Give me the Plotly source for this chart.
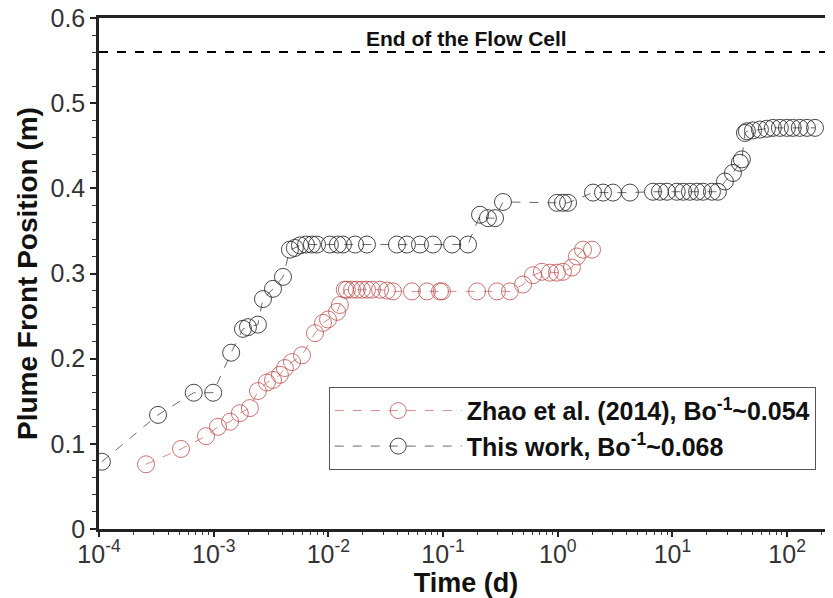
import plotly.graph_objects as go

# ---------------- data ----------------
this_work_time = [1.06e-4, 3.27e-4, 6.7e-4, 9.9e-4, 1.42e-3, 1.80e-3, 1.99e-3, 2.43e-3, 2.69e-3,
                  3.29e-3, 4.02e-3, 4.62e-3, 5.1e-3, 5.65e-3, 6.38e-3, 7.19e-3, 7.96e-3, 1.03e-2,
                  1.21e-2, 1.34e-2, 1.71e-2, 2.17e-2, 3.96e-2, 4.84e-2, 6.29e-2, 8.16e-2, 0.120,
                  0.165, 0.210, 0.246, 0.284, 0.333, 0.984, 1.11, 1.23, 2.03, 2.48, 3.03, 4.26,
                  6.76, 7.78, 8.96, 10.9, 12.4, 14.2, 16.4, 18.5, 22.1, 24.9, 28.7, 33.7, 38.7,
                  40.3, 42.9, 44.6, 50.4, 57.9, 66.7, 75.2, 86.5, 99.6, 112, 129, 149, 175]
this_work_pos = [0.079, 0.134, 0.160, 0.160, 0.207, 0.235, 0.237, 0.240, 0.270,
                 0.282, 0.296, 0.328, 0.330, 0.333, 0.334, 0.334, 0.334, 0.334,
                 0.334, 0.334, 0.334, 0.334, 0.334, 0.334, 0.334, 0.334, 0.334,
                 0.334, 0.369, 0.365, 0.365, 0.384, 0.383, 0.383, 0.383, 0.395, 0.395, 0.395, 0.395,
                 0.396, 0.396, 0.396, 0.396, 0.396, 0.396, 0.396, 0.396, 0.396, 0.396, 0.408, 0.418, 0.430,
                 0.434, 0.465, 0.467, 0.468, 0.469, 0.470, 0.471, 0.471, 0.471, 0.471, 0.471, 0.471, 0.471]

zhao_time = [2.57e-4, 5.19e-4, 8.57e-4, 1.09e-3, 1.39e-3, 1.69e-3, 2.07e-3, 2.43e-3, 2.91e-3,
             3.29e-3, 3.78e-3, 4.18e-3, 4.82e-3, 5.89e-3, 7.64e-3, 8.97e-3, 9.93e-3, 1.19e-2,
             1.26e-2, 1.39e-2, 1.45e-2, 1.61e-2, 1.77e-2, 1.96e-2, 2.17e-2, 2.40e-2, 2.82e-2,
             3.24e-2, 3.66e-2, 5.35e-2, 7.24e-2, 9.40e-2, 9.78e-2, 0.198, 0.295, 0.383, 0.498,
             0.608, 0.728, 0.855, 0.984, 1.11, 1.33, 1.47, 1.66, 1.99]
zhao_pos = [0.076, 0.094, 0.109, 0.120, 0.126, 0.136, 0.142, 0.162, 0.172,
            0.175, 0.181, 0.189, 0.196, 0.204, 0.230, 0.242, 0.246, 0.255,
            0.263, 0.281, 0.281, 0.281, 0.281, 0.281, 0.281, 0.281, 0.281,
            0.280, 0.279, 0.279, 0.279, 0.279, 0.279, 0.279, 0.279, 0.279, 0.287,
            0.298, 0.302, 0.301, 0.301, 0.302, 0.307, 0.320, 0.328, 0.328]

flow_cell_end = 0.56
x_tick_vals = [1e-4, 1e-3, 1e-2, 1e-1, 1e0, 1e1, 1e2]
x_tick_text = ["10<sup>-4</sup>", "10<sup>-3</sup>", "10<sup>-2</sup>", "10<sup>-1</sup>",
               "10<sup>0</sup>", "10<sup>1</sup>", "10<sup>2</sup>"]
x_minor_vals = [k * 10.0 ** e for e in range(-4, 3) for k in range(2, 10)]

FONT = "Liberation Sans, Arial, sans-serif"
X_RANGE = [-4, 2.4]
Y_RANGE = [0, 0.6]

fig = go.Figure()
fig.add_trace(go.Scatter(
    x=zhao_time, y=zhao_pos, mode="lines+markers",
    name="<b>Zhao et al. (2014), Bo<sup>-1</sup>~0.054</b>",
    line=dict(color="rgba(205,125,125,0.9)", width=1, dash="dash"),
    marker=dict(symbol="circle-open", size=17, color="rgba(190,80,80,0.8)", line=dict(width=1)),
))
fig.add_trace(go.Scatter(
    x=this_work_time, y=this_work_pos, mode="lines+markers",
    name="<b>This work, Bo<sup>-1</sup>~0.068</b>",
    line=dict(color="rgba(90,90,90,0.9)", width=1, dash="dash"),
    marker=dict(symbol="circle-open", size=17, color="rgba(40,40,40,0.85)", line=dict(width=1)),
))

fig.add_hline(y=flow_cell_end, line=dict(color="black", width=2, dash="dash"))
fig.add_annotation(x=0.5, xref="paper", y=flow_cell_end, yref="y", yanchor="bottom",
                   text="<b>End of the Flow Cell</b>", showarrow=False,
                   font=dict(family=FONT, size=21, color="#111"), yshift=0)

# the page body adds an 8 px offset, so the figure is 8 px smaller than the window
fig.update_layout(
    width=825, height=590,
    margin=dict(l=91, r=0, t=10, b=69),
    paper_bgcolor="white", plot_bgcolor="white",
    font=dict(family=FONT, color="#222"),
    showlegend=True,
    legend=dict(x=0.313, y=0.197, xanchor="left", yanchor="middle",
                bordercolor="#555", borderwidth=1, bgcolor="white",
                font=dict(family=FONT, size=25, color="#111"),
                itemwidth=127, tracegroupgap=0),
    xaxis=dict(type="log", range=X_RANGE, showgrid=False, zeroline=False, automargin=False,
               showline=True, linecolor="#222", linewidth=2.5, mirror=True,
               ticks="outside", ticklen=5, tickwidth=1.5, tickcolor="#222",
               tickvals=x_tick_vals, ticktext=x_tick_text, ticklabelstandoff=-4,
               tickfont=dict(family=FONT, size=25, color="#333"),
               minor=dict(ticks="outside", ticklen=3, tickwidth=1, tickcolor="#333",
                          tickvals=x_minor_vals),
               title=dict(text="<b>Time (d)</b>", font=dict(family=FONT, size=27, color="#111"),
                          standoff=0)),
    xaxis2=dict(type="log", range=X_RANGE, overlaying="x", anchor="y", side="bottom",
                showgrid=False, zeroline=False, showline=False, showticklabels=False,
                automargin=False,
                ticks="inside", ticklen=5, tickwidth=1.5, tickcolor="#222",
                tickvals=x_tick_vals,
                minor=dict(ticks="inside", ticklen=3, tickwidth=1, tickcolor="#333",
                           tickvals=x_minor_vals)),
    yaxis=dict(range=Y_RANGE, showgrid=False, zeroline=False, automargin=False,
               showline=True, linecolor="#222", linewidth=2.5,
               ticks="outside", ticklen=6, tickwidth=1.5, tickcolor="#222",
               dtick=0.1, tick0=0, ticklabeloverflow="allow",
               tickfont=dict(family=FONT, size=25, color="#333"),
               minor=dict(ticks="outside", ticklen=4, tickwidth=1, tickcolor="#333", dtick=0.02),
               title=dict(text="<b>Plume Front Position (m)</b>",
                          font=dict(family=FONT, size=28, color="#111"), standoff=5)),
    yaxis2=dict(range=Y_RANGE, overlaying="y", anchor="x", side="left",
                showgrid=False, zeroline=False, showline=False, showticklabels=False,
                automargin=False,
                ticks="inside", ticklen=6, tickwidth=1.5, tickcolor="#222",
                dtick=0.1, tick0=0,
                minor=dict(ticks="inside", ticklen=4, tickwidth=1, tickcolor="#333", dtick=0.02)),
)

fig.write_html("out.html")
